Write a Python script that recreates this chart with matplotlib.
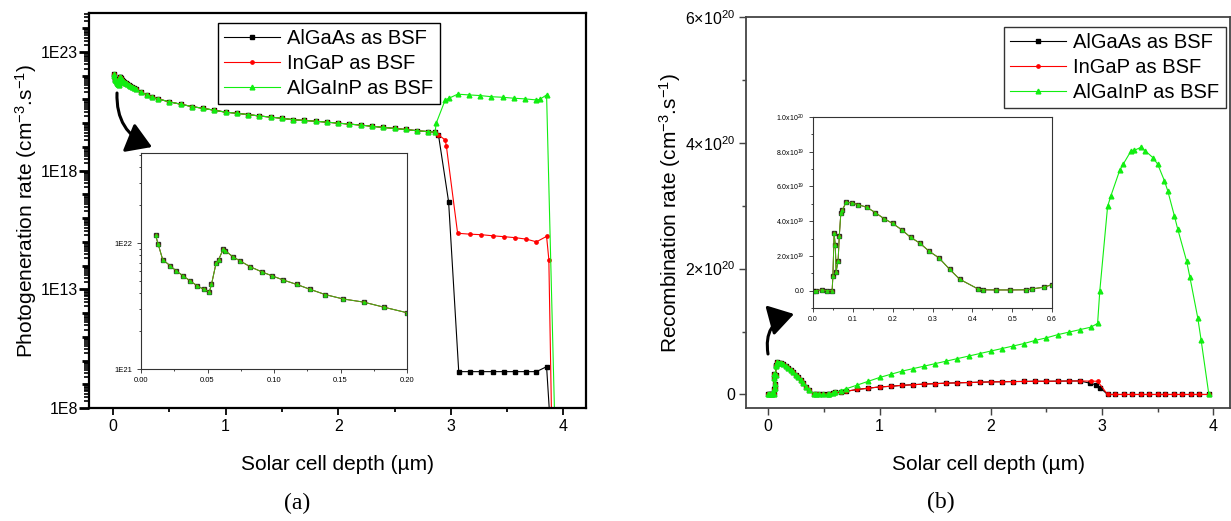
import matplotlib
matplotlib.use('Agg')
import matplotlib.pyplot as plt
from matplotlib.patches import FancyArrowPatch
from matplotlib.ticker import FixedLocator, MultipleLocator, FuncFormatter, NullFormatter
import numpy as np

plt.rcParams['font.family'] = ['Liberation Sans', 'DejaVu Sans']
plt.rcParams['mathtext.fontset'] = 'custom'
plt.rcParams['mathtext.rm'] = 'Liberation Sans'
plt.rcParams['mathtext.it'] = 'Liberation Sans:italic'
plt.rcParams['mathtext.bf'] = 'Liberation Sans:bold'

labels = ['AlGaAs as BSF', 'InGaP as BSF', 'AlGaInP as BSF']
colors = ['black', '#ff0000', '#11ee11']
markers = ['s', 'o', '^']
msizes = [3.2, 2.4, 3.4]

# ---- (a) photogeneration, near surface (inset) ----
gen_x_surf = [0.011, 0.0128, 0.0163, 0.022, 0.0266, 0.0316, 0.037, 0.042, 0.047, 0.0514,
              0.053, 0.0564, 0.0584, 0.0617, 0.0634, 0.069, 0.0747, 0.082, 0.091, 0.0985,
              0.1068, 0.117, 0.127, 0.1386, 0.152, 0.1674, 0.1825, 0.2]
gen_y_surf = [1.15e22, 9.9e21, 7.4e21, 6.6e21, 6.0e21, 5.5e21, 5.0e21, 4.6e21, 4.3e21, 4.1e21,
              4.7e21, 6.9e21, 7.4e21, 8.9e21, 8.7e21, 7.8e21, 7.2e21, 6.5e21, 5.9e21, 5.5e21,
              5.1e21, 4.7e21, 4.3e21, 3.9e21, 3.6e21, 3.4e21, 3.1e21, 2.8e21]
# bulk, common to all three
gen_x_bulk = [0.25, 0.3, 0.35, 0.4, 0.5, 0.6, 0.7, 0.8, 0.9, 1.0, 1.1, 1.2, 1.3, 1.4, 1.5,
              1.6, 1.7, 1.8, 1.9, 2.0, 2.1, 2.2, 2.3, 2.4, 2.5, 2.6, 2.7, 2.8, 2.86]
gen_y_bulk = [2.0e21, 1.6e21, 1.26e21, 1.05e21, 7.9e20, 6.3e20, 5.0e20, 4.2e20, 3.5e20, 2.9e20,
              2.6e20, 2.3e20, 2.0e20, 1.8e20, 1.6e20, 1.4e20, 1.3e20, 1.2e20, 1.1e20, 1.0e20,
              9.1e19, 8.3e19, 7.4e19, 6.6e19, 6.0e19, 5.4e19, 4.8e19, 4.4e19, 4.2e19]
# BSF region
algaas_gen_tail_x = [2.89, 2.98, 3.07, 3.17, 3.27, 3.37, 3.47, 3.57, 3.67, 3.76, 3.85, 3.90]
algaas_gen_tail = [3.2e19, 4.9e16, 3.4e9, 3.4e9, 3.4e9, 3.4e9, 3.4e9, 3.4e9, 3.4e9, 3.4e9, 5.5e9, 1e6]
ingap_gen_tail_x = [2.89, 2.95, 2.96, 3.06, 3.17, 3.27, 3.37, 3.47, 3.57, 3.67, 3.76, 3.85, 3.87, 3.90]
ingap_gen_tail = [3.2e19, 1.95e19, 1.1e19, 2.3e15, 2.1e15, 2.0e15, 1.8e15, 1.65e15, 1.5e15,
                  1.3e15, 1.0e15, 1.7e15, 1.8e14, 1e6]
algainp_gen_tail_x = [2.87, 2.95, 2.98, 3.06, 3.16, 3.26, 3.36, 3.46, 3.56, 3.66, 3.76, 3.79, 3.85, 3.93]
algainp_gen_tail = [1.0e20, 9.5e20, 1.1e21, 1.66e21, 1.55e21, 1.45e21, 1.3e21, 1.23e21, 1.12e21,
                    1.05e21, 9.5e20, 1.0e21, 1.55e21, 1e6]

# ---- (b) recombination (units of 1e19 cm-3 s-1) ----
rec_x_surf = [0.0, 0.008, 0.022, 0.035, 0.048, 0.05, 0.053, 0.056, 0.058, 0.063, 0.066, 0.07,
              0.074, 0.083, 0.098, 0.114, 0.135, 0.156, 0.178, 0.2, 0.223, 0.245, 0.268, 0.292,
              0.316, 0.343, 0.368, 0.414, 0.427, 0.46, 0.495, 0.535, 0.55, 0.58, 0.6]
rec_y_surf = [0, 0, 0.05, 0, 0, 0.85, 3.3, 2.6, 1.1, 1.7, 3.15, 4.5, 4.65, 5.1, 5.05, 4.95, 4.8,
              4.5, 4.15, 3.87, 3.5, 3.07, 2.74, 2.26, 1.89, 1.23, 0.66, 0.1, 0.05, 0.04, 0.04,
              0.05, 0.1, 0.2, 0.35]
rec_x_bulk = [0.65, 0.7, 0.8, 0.9, 1.0, 1.1, 1.2, 1.3, 1.4, 1.5, 1.6, 1.7, 1.8, 1.9, 2.0, 2.1,
              2.2, 2.3, 2.4, 2.5, 2.6, 2.7, 2.8]
algainp_rec_bulk = [0.6, 0.9, 1.5, 2.1, 2.7, 3.2, 3.7, 4.1, 4.5, 4.9, 5.3, 5.7, 6.1, 6.5, 6.9,
                    7.3, 7.7, 8.1, 8.6, 9.0, 9.5, 9.9, 10.3]
ingap_rec_bulk = [0.35, 0.5, 0.8, 1.0, 1.2, 1.3, 1.45, 1.55, 1.65, 1.72, 1.8, 1.85, 1.9, 1.95,
                  2.0, 2.02, 2.05, 2.07, 2.1, 2.1, 2.12, 2.14, 2.15]
zero_x = [3.05, 3.12, 3.2, 3.27, 3.35, 3.42, 3.5, 3.57, 3.65, 3.72, 3.8, 3.87, 3.96]
algaas_rec_tail_x = [2.89, 2.95, 2.98] + zero_x
algaas_rec_tail = [1.8, 1.5, 1.1] + [0] * len(zero_x)
ingap_rec_tail_x = [2.9, 2.96] + zero_x
ingap_rec_tail = [2.12, 2.1] + [0] * len(zero_x)
algainp_rec_tail_x = [2.9, 2.96, 2.98, 3.05, 3.08, 3.16, 3.19, 3.26, 3.29, 3.35, 3.39, 3.46,
                      3.5, 3.56, 3.59, 3.65, 3.68, 3.76, 3.79, 3.86, 3.89, 3.96]
algainp_rec_tail = [10.7, 11.3, 16.5, 29.9, 31.6, 35.7, 36.6, 38.7, 38.8, 39.3, 38.7, 37.6,
                    36.6, 34.0, 32.4, 28.4, 26.3, 21.2, 18.6, 12.2, 8.7, 0]

W, H = 1231, 521
fig = plt.figure(figsize=(W / 100, H / 100), dpi=100)


def px_axes(l, t, r, b):
    return fig.add_axes([l / W, 1 - b / H, (r - l) / W, (b - t) / H])


def style(ax, lw, col, size, length):
    for s in ax.spines.values():
        s.set_linewidth(lw)
        s.set_color(col)
    ax.tick_params(which='both', direction='out', top=False, right=False,
                   labelsize=size, width=lw * 0.8, color=col, pad=3)
    ax.tick_params(which='major', length=length)
    ax.tick_params(which='minor', length=length * 0.6)


def log_minor(lo, hi):
    return [s * 10.0 ** k for k in range(lo, hi) for s in range(2, 10)]


# ---------------- panel (a) ----------------
ax1 = px_axes(89, 13, 586, 408)
gen_tails = [(algaas_gen_tail_x, algaas_gen_tail), (ingap_gen_tail_x, ingap_gen_tail),
             (algainp_gen_tail_x, algainp_gen_tail)]
for (tx, ty), lab, c, m, ms in zip(gen_tails, labels, colors, markers, msizes):
    ax1.plot(gen_x_surf + gen_x_bulk + tx, gen_y_surf + gen_y_bulk + ty, color=c, lw=0.8,
             marker=m, ms=ms, label=lab)
ax1.set_yscale('log')
ax1.set_xlim(-0.213, 4.2)
ax1.set_ylim(1e8, 10 ** 24.64)
decades = [10.0 ** k for k in range(8, 25)]
ax1.yaxis.set_major_locator(FixedLocator(decades))
ax1.yaxis.set_major_formatter(FuncFormatter(
    lambda v, p: '1E%d' % round(np.log10(v)) if round(np.log10(v)) % 5 == 3 else ''))
ax1.yaxis.set_minor_locator(FixedLocator(log_minor(8, 25)))
ax1.yaxis.set_minor_formatter(NullFormatter())
ax1.xaxis.set_major_locator(MultipleLocator(1))
ax1.xaxis.set_minor_locator(MultipleLocator(0.5))
style(ax1, 1.6, 'black', 11.5, 5)
ax1.tick_params(axis='y', which='major', length=5, width=2.0)
ax1.tick_params(axis='y', which='minor', length=3.5, width=1.2)
for v, t in zip(decades, ax1.yaxis.get_major_ticks()):
    if round(np.log10(v)) % 5 == 3:
        t.tick1line.set_markersize(7)
ax1.set_xlabel('Solar cell depth (\u00b5m)', fontsize=15)
ax1.xaxis.set_label_coords(0.5, -0.118)
ax1.set_ylabel('Photogeneration rate (cm$^{-3}$.s$^{-1}$)', fontsize=15)
ax1.yaxis.set_label_coords(-0.1, 0.5)
leg1 = ax1.legend(loc='upper left', bbox_to_anchor=(218 / W, 1 - 23 / H), bbox_transform=fig.transFigure,
                  fontsize=14.5, frameon=True, fancybox=False, edgecolor='black', framealpha=1,
                  handlelength=2.8, handletextpad=0.35, labelspacing=0.3, borderpad=0.3,
                  borderaxespad=0)
leg1.get_frame().set_linewidth(1.0)

# inset (a)
ax1i = px_axes(141, 153, 407, 369)
for lab, c, m, ms in zip(labels, colors, markers, msizes):
    ax1i.plot(gen_x_surf, gen_y_surf, color=c, lw=0.7, marker=m, ms=ms * 0.7, alpha=0.75)
ax1i.set_yscale('log')
ax1i.set_xlim(0, 0.2)
ax1i.set_ylim(1e21, 5.2e22)
ax1i.yaxis.set_major_locator(FixedLocator([1e21, 1e22]))
ax1i.yaxis.set_major_formatter(FuncFormatter(lambda v, p: '1E%d' % round(np.log10(v))))
ax1i.yaxis.set_minor_locator(FixedLocator(log_minor(21, 23)))
ax1i.yaxis.set_minor_formatter(NullFormatter())
ax1i.xaxis.set_major_locator(MultipleLocator(0.05))
ax1i.xaxis.set_minor_locator(MultipleLocator(0.025))
ax1i.xaxis.set_major_formatter(FuncFormatter(lambda v, p: '%.2f' % v))
style(ax1i, 0.8, '#333333', 5.5, 3)

# ---------------- panel (b) ----------------
ax2 = px_axes(746, 17, 1230, 408)
rec_series = [
    (rec_x_surf + rec_x_bulk + algaas_rec_tail_x, rec_y_surf + ingap_rec_bulk + algaas_rec_tail),
    (rec_x_surf + rec_x_bulk + ingap_rec_tail_x, rec_y_surf + ingap_rec_bulk + ingap_rec_tail),
    (rec_x_surf + rec_x_bulk + algainp_rec_tail_x, rec_y_surf + algainp_rec_bulk + algainp_rec_tail),
]
for (sx, sy), lab, c, m, ms in zip(rec_series, labels, colors, markers, msizes):
    ax2.plot(sx, np.array(sy) * 1e19, color=c, lw=0.8, marker=m, ms=ms, label=lab)
ax2.set_xlim(-0.2, 4.15)
ax2.set_ylim(-0.215e20, 6e20)
ax2.yaxis.set_major_locator(FixedLocator([0, 2e20, 4e20, 6e20]))
ax2.yaxis.set_major_formatter(FuncFormatter(
    lambda v, p: '0' if v == 0 else '%d\u00d710$^{20}$' % round(v / 1e20)))
ax2.yaxis.set_minor_locator(MultipleLocator(1e20))
ax2.xaxis.set_major_locator(MultipleLocator(1))
ax2.xaxis.set_minor_locator(MultipleLocator(0.5))
style(ax2, 1.3, '#444444', 11.5, 5)
ax2.set_xlabel('Solar cell depth (\u00b5m)', fontsize=15)
ax2.xaxis.set_label_coords(0.5, -0.12)
ax2.set_ylabel('Recombination rate (cm$^{-3}$.s$^{-1}$)', fontsize=15)
ax2.yaxis.set_label_coords(-0.13, 0.5)
leg2 = ax2.legend(loc='upper left', bbox_to_anchor=(1004 / W, 1 - 27 / H), bbox_transform=fig.transFigure,
                  fontsize=14.5, frameon=True, fancybox=False, edgecolor='#333333', framealpha=1,
                  handlelength=2.8, handletextpad=0.35, labelspacing=0.3, borderpad=0.3,
                  borderaxespad=0)
leg2.get_frame().set_linewidth(1.0)

# inset (b)
ax2i = px_axes(813, 117, 1052, 308)
for lab, c, m, ms in zip(labels, colors, markers, msizes):
    ax2i.plot(rec_x_surf, np.array(rec_y_surf) * 1e19, color=c, lw=0.7, marker=m, ms=ms * 0.7, alpha=0.75)
ax2i.set_xlim(0, 0.6)
ax2i.set_ylim(-1e19, 1e20)
ax2i.yaxis.set_major_locator(FixedLocator([0, 2e19, 4e19, 6e19, 8e19, 1e20]))


def inset_fmt(v, p):
    if v == 0:
        return '0.0'
    e = int(np.floor(np.log10(v) + 1e-9))
    return '%.1fx10$^{%d}$' % (v / 10 ** e, e)


ax2i.yaxis.set_major_formatter(FuncFormatter(inset_fmt))
ax2i.yaxis.set_minor_locator(MultipleLocator(1e19))
ax2i.xaxis.set_major_locator(MultipleLocator(0.1))
ax2i.xaxis.set_minor_locator(MultipleLocator(0.05))
ax2i.xaxis.set_major_formatter(FuncFormatter(lambda v, p: '%.1f' % v))
style(ax2i, 0.8, '#333333', 5, 3)

# curved arrows pointing to / from the insets
for (x0, y0), (x1, y1), rad in [((117, 93), (152, 147), 0.35), ((768, 354), (794, 314), -0.45)]:
    arr = FancyArrowPatch((x0 / W, 1 - y0 / H), (x1 / W, 1 - y1 / H), transform=fig.transFigure,
                          connectionstyle='arc3,rad=%g' % rad,
                          arrowstyle='-|>,head_length=0.8,head_width=0.5',
                          mutation_scale=19, lw=2.2, color='black', shrinkA=0, shrinkB=0)
    fig.patches.append(arr)

fig.text(297 / W, 1 - 503 / H, '(a)', ha='center', va='center', fontsize=17, family='Liberation Serif')
fig.text(941 / W, 1 - 502 / H, '(b)', ha='center', va='center', fontsize=17, family='Liberation Serif')

fig.savefig('out.png', dpi=100)
